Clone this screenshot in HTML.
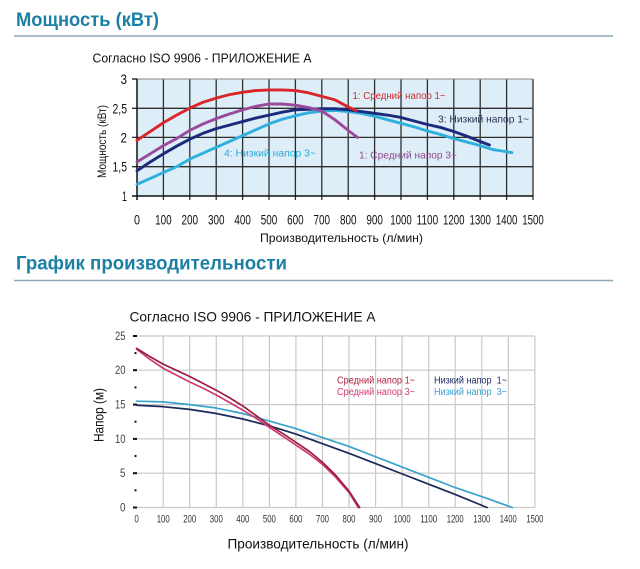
<!DOCTYPE html>
<html><head><meta charset="utf-8"><style>
html,body{margin:0;padding:0;background:#fff;}
svg{display:block;}
text{font-family:"Liberation Sans",Arial,sans-serif;}
</style></head><body>
<svg width="640" height="569" viewBox="0 0 640 569" xmlns="http://www.w3.org/2000/svg">
<rect width="640" height="569" fill="#fff"/>
<!-- Headings -->
<text x="16" y="26" font-size="19" font-weight="bold" fill="#1b7fa6" textLength="143" lengthAdjust="spacingAndGlyphs">Мощность (кВт)</text>
<line x1="14" y1="36" x2="613" y2="36" stroke="#8aa9b3" stroke-width="1.5"/>
<text x="16" y="269.5" font-size="19" font-weight="bold" fill="#1b7fa6" textLength="271" lengthAdjust="spacingAndGlyphs">График производительности</text>
<line x1="14" y1="280.5" x2="613" y2="280.5" stroke="#8aa9b3" stroke-width="1.5"/>

<!-- TOP CHART -->
<text x="92.5" y="62.5" font-size="13" fill="#111" textLength="219" lengthAdjust="spacingAndGlyphs">Согласно ISO 9906 - ПРИЛОЖЕНИЕ А</text>
<rect x="137" y="79" width="396" height="117" fill="#deeef9"/>
<g stroke="#2e2e2e" stroke-width="1.3">
<line x1="163.4" y1="79" x2="163.4" y2="200"/><line x1="189.8" y1="79" x2="189.8" y2="200"/>
<line x1="216.2" y1="79" x2="216.2" y2="200"/><line x1="242.6" y1="79" x2="242.6" y2="200"/>
<line x1="269" y1="79" x2="269" y2="200"/><line x1="295.4" y1="79" x2="295.4" y2="200"/>
<line x1="321.8" y1="79" x2="321.8" y2="200"/><line x1="348.2" y1="79" x2="348.2" y2="200"/>
<line x1="374.6" y1="79" x2="374.6" y2="200"/><line x1="401" y1="79" x2="401" y2="200"/>
<line x1="427.4" y1="79" x2="427.4" y2="200"/><line x1="453.8" y1="79" x2="453.8" y2="200"/>
<line x1="480.2" y1="79" x2="480.2" y2="200"/><line x1="506.6" y1="79" x2="506.6" y2="200"/>
<line x1="533" y1="79" x2="533" y2="200"/>
<line x1="132" y1="108.3" x2="533" y2="108.3"/>
<line x1="132" y1="137.4" x2="533" y2="137.4"/>
<line x1="132" y1="166.7" x2="533" y2="166.7"/>
</g>
<line x1="137" y1="79" x2="533" y2="79" stroke="#888" stroke-width="1"/>
<line x1="132" y1="79" x2="137" y2="79" stroke="#111" stroke-width="1.3"/>
<line x1="137" y1="79" x2="137" y2="200" stroke="#111" stroke-width="1.5"/>
<line x1="132" y1="196" x2="533" y2="196" stroke="#111" stroke-width="1.5"/>

<g fill="none" stroke-width="2.9" stroke-linejoin="round" stroke-linecap="round" transform="matrix(0.264 0 0 -58.6 137 254.6)">
<polyline vector-effect="non-scaling-stroke" stroke="#2fb0dc" points="0,1.2 50,1.3 100,1.4 150,1.5 200,1.63 250,1.73 300,1.83 350,1.93 400,2.03 450,2.13 500,2.23 550,2.31 600,2.37 650,2.42 700,2.45 750,2.46 800,2.44 850,2.41 900,2.36 950,2.3 1000,2.24 1050,2.18 1100,2.11 1150,2.05 1200,1.98 1250,1.92 1300,1.86 1350,1.79 1380,1.77 1420,1.74"/>
<polyline vector-effect="non-scaling-stroke" stroke="#1c2a7c" points="0,1.43 50,1.58 100,1.72 150,1.85 200,1.97 250,2.07 300,2.15 350,2.21 400,2.27 450,2.33 500,2.38 550,2.43 600,2.47 650,2.48 700,2.49 750,2.49 800,2.47 850,2.44 900,2.41 950,2.38 1000,2.34 1050,2.28 1100,2.22 1150,2.17 1200,2.1 1250,2.02 1300,1.93 1335,1.87"/>
<polyline vector-effect="non-scaling-stroke" stroke="#9a4a9c" points="0,1.58 50,1.72 100,1.86 150,1.98 200,2.12 250,2.23 300,2.32 350,2.4 400,2.47 450,2.53 500,2.57 550,2.57 600,2.55 650,2.51 700,2.45 750,2.3 800,2.12 835,2.0"/>
<polyline vector-effect="non-scaling-stroke" stroke="#d8262a" points="0,1.95 50,2.1 100,2.25 150,2.38 200,2.5 250,2.6 300,2.67 350,2.73 400,2.77 450,2.8 500,2.81 550,2.81 600,2.8 650,2.76 700,2.7 750,2.64 800,2.52 830,2.46"/>
</g>

<text x="352.5" y="99" font-size="10.5" fill="#c8302c" textLength="93" lengthAdjust="spacingAndGlyphs">1: Средний напор 1~</text>
<text x="438" y="122.3" font-size="10.5" fill="#2a3050" textLength="91" lengthAdjust="spacingAndGlyphs">3: Низкий напор 1~</text>
<text x="359" y="158.5" font-size="10.5" fill="#94478f" textLength="98" lengthAdjust="spacingAndGlyphs">1: Средний напор 3~</text>
<text x="224" y="156.5" font-size="10.5" fill="#2aa8d8" textLength="92" lengthAdjust="spacingAndGlyphs">4: Низкий напор 3~</text>

<g font-size="14" fill="#111" text-anchor="end">
<text x="127" y="84" textLength="6.5" lengthAdjust="spacingAndGlyphs">3</text>
<text x="127" y="113.3" textLength="14.5" lengthAdjust="spacingAndGlyphs">2,5</text>
<text x="127" y="142.4" textLength="6.5" lengthAdjust="spacingAndGlyphs">2</text>
<text x="127" y="171.7" textLength="14.5" lengthAdjust="spacingAndGlyphs">1,5</text>
<text x="127" y="201" textLength="5" lengthAdjust="spacingAndGlyphs">1</text>
</g>
<g font-size="14" fill="#111" text-anchor="middle">
<text x="137" y="224.5" textLength="6" lengthAdjust="spacingAndGlyphs">0</text>
<text x="163.4" y="224.5" textLength="16.5" lengthAdjust="spacingAndGlyphs">100</text>
<text x="189.8" y="224.5" textLength="16.5" lengthAdjust="spacingAndGlyphs">200</text>
<text x="216.2" y="224.5" textLength="16.5" lengthAdjust="spacingAndGlyphs">300</text>
<text x="242.6" y="224.5" textLength="16.5" lengthAdjust="spacingAndGlyphs">400</text>
<text x="269" y="224.5" textLength="16.5" lengthAdjust="spacingAndGlyphs">500</text>
<text x="295.4" y="224.5" textLength="16.5" lengthAdjust="spacingAndGlyphs">600</text>
<text x="321.8" y="224.5" textLength="16.5" lengthAdjust="spacingAndGlyphs">700</text>
<text x="348.2" y="224.5" textLength="16.5" lengthAdjust="spacingAndGlyphs">800</text>
<text x="374.6" y="224.5" textLength="16.5" lengthAdjust="spacingAndGlyphs">900</text>
<text x="401" y="224.5" textLength="21.5" lengthAdjust="spacingAndGlyphs">1000</text>
<text x="427.4" y="224.5" textLength="21.5" lengthAdjust="spacingAndGlyphs">1100</text>
<text x="453.8" y="224.5" textLength="21.5" lengthAdjust="spacingAndGlyphs">1200</text>
<text x="480.2" y="224.5" textLength="21.5" lengthAdjust="spacingAndGlyphs">1300</text>
<text x="506.6" y="224.5" textLength="21.5" lengthAdjust="spacingAndGlyphs">1400</text>
<text x="533" y="224.5" textLength="21.5" lengthAdjust="spacingAndGlyphs">1500</text>
</g>
<text x="341.5" y="242" font-size="12" fill="#111" text-anchor="middle" textLength="163" lengthAdjust="spacingAndGlyphs">Производительность (л/мин)</text>
<text transform="translate(106,141.5) rotate(-90)" font-size="12" fill="#111" text-anchor="middle" textLength="73" lengthAdjust="spacingAndGlyphs">Мощность (кВт)</text>

<!-- BOTTOM CHART -->
<text x="129.5" y="321.7" font-size="14" fill="#111" textLength="246" lengthAdjust="spacingAndGlyphs">Согласно ISO 9906 - ПРИЛОЖЕНИЕ А</text>
<g stroke="#c9c9c9" stroke-width="1.2">
<line x1="163.2" y1="336" x2="163.2" y2="507.5"/><line x1="189.7" y1="336" x2="189.7" y2="507.5"/>
<line x1="216.3" y1="336" x2="216.3" y2="507.5"/><line x1="242.8" y1="336" x2="242.8" y2="507.5"/>
<line x1="269.4" y1="336" x2="269.4" y2="507.5"/><line x1="295.9" y1="336" x2="295.9" y2="507.5"/>
<line x1="322.5" y1="336" x2="322.5" y2="507.5"/><line x1="349" y1="336" x2="349" y2="507.5"/>
<line x1="375.6" y1="336" x2="375.6" y2="507.5"/><line x1="402.1" y1="336" x2="402.1" y2="507.5"/>
<line x1="428.7" y1="336" x2="428.7" y2="507.5"/><line x1="455.2" y1="336" x2="455.2" y2="507.5"/>
<line x1="481.8" y1="336" x2="481.8" y2="507.5"/><line x1="508.3" y1="336" x2="508.3" y2="507.5"/>
<line x1="534.9" y1="336" x2="534.9" y2="507.5"/>
<line x1="137" y1="336" x2="534.9" y2="336"/>
<line x1="137" y1="370.2" x2="534.9" y2="370.2"/>
<line x1="137" y1="404.6" x2="534.9" y2="404.6"/>
<line x1="137" y1="438.9" x2="534.9" y2="438.9"/>
<line x1="137" y1="473.2" x2="534.9" y2="473.2"/>
<line x1="137" y1="507.5" x2="534.9" y2="507.5"/>
</g>
<g stroke="#111" stroke-width="2">
<line x1="133" y1="336" x2="137" y2="336"/><line x1="133" y1="370.2" x2="137" y2="370.2"/>
<line x1="133" y1="404.6" x2="137" y2="404.6"/><line x1="133" y1="438.9" x2="137" y2="438.9"/>
<line x1="133" y1="473.2" x2="137" y2="473.2"/><line x1="133" y1="507.5" x2="137" y2="507.5"/>
<line x1="134.5" y1="353.1" x2="136.5" y2="353.1"/><line x1="134.5" y1="387.4" x2="136.5" y2="387.4"/>
<line x1="134.5" y1="421.7" x2="136.5" y2="421.7"/><line x1="134.5" y1="456" x2="136.5" y2="456"/>
<line x1="134.5" y1="490.3" x2="136.5" y2="490.3"/>
</g>

<g fill="none" stroke-width="1.7" stroke-linejoin="round" stroke-linecap="round" transform="matrix(0.2655 0 0 -6.86 136.6 507.5)">
<polyline vector-effect="non-scaling-stroke" stroke="#3aa3cc" points="0,15.5 100,15.4 200,15 300,14.5 400,13.7 500,12.6 600,11.5 700,10.2 800,8.9 900,7.4 1000,5.9 1100,4.4 1200,2.9 1300,1.6 1415,0"/>
<polyline vector-effect="non-scaling-stroke" stroke="#1c2a5a" points="0,14.9 100,14.7 200,14.3 300,13.7 400,12.9 500,11.9 600,10.7 700,9.3 800,7.9 900,6.4 1000,4.9 1100,3.4 1200,1.9 1320,0"/>
<polyline vector-effect="non-scaling-stroke" stroke="#cc3a78" points="0,23.1 50,21.6 100,20.3 150,19.3 200,18.3 250,17.4 300,16.4 350,15.3 400,14.2 450,13 500,11.7 550,10.4 600,9.1 650,7.8 700,6.3 750,4.4 800,2.2 835,0"/>
<polyline vector-effect="non-scaling-stroke" stroke="#9a1f3e" points="0,23.2 50,22 100,20.9 150,20 200,19.1 250,18.1 300,17.1 350,16 400,14.8 450,13.4 500,12 550,10.8 600,9.5 650,8.2 700,6.6 750,4.7 800,2.4 840,0"/>
</g>

<text x="337" y="383.3" font-size="10" fill="#b0203c" textLength="78" lengthAdjust="spacingAndGlyphs">Средний напор 1~</text>
<text x="337" y="395" font-size="10" fill="#d23a7a" textLength="78" lengthAdjust="spacingAndGlyphs">Средний напор 3~</text>
<text x="434" y="383.3" font-size="10" fill="#1a2a5e" textLength="73" lengthAdjust="spacingAndGlyphs" xml:space="preserve">Низкий напор  1~</text>
<text x="434" y="395" font-size="10" fill="#3a9fcf" textLength="73" lengthAdjust="spacingAndGlyphs" xml:space="preserve">Низкий напор  3~</text>

<g font-size="11.5" fill="#444" text-anchor="end">
<text x="125.5" y="340" textLength="10.5" lengthAdjust="spacingAndGlyphs">25</text>
<text x="125.5" y="374.2" textLength="10.5" lengthAdjust="spacingAndGlyphs">20</text>
<text x="125.5" y="408.6" textLength="10.5" lengthAdjust="spacingAndGlyphs">15</text>
<text x="125.5" y="442.9" textLength="10.5" lengthAdjust="spacingAndGlyphs">10</text>
<text x="125.5" y="477.2" textLength="5.5" lengthAdjust="spacingAndGlyphs">5</text>
<text x="125.5" y="511.5" textLength="5.5" lengthAdjust="spacingAndGlyphs">0</text>
</g>
<g font-size="11" fill="#333" text-anchor="middle">
<text x="136.6" y="522.5" textLength="4.5" lengthAdjust="spacingAndGlyphs">0</text>
<text x="163.2" y="522.5" textLength="13" lengthAdjust="spacingAndGlyphs">100</text>
<text x="189.7" y="522.5" textLength="13" lengthAdjust="spacingAndGlyphs">200</text>
<text x="216.3" y="522.5" textLength="13" lengthAdjust="spacingAndGlyphs">300</text>
<text x="242.8" y="522.5" textLength="13" lengthAdjust="spacingAndGlyphs">400</text>
<text x="269.4" y="522.5" textLength="13" lengthAdjust="spacingAndGlyphs">500</text>
<text x="295.9" y="522.5" textLength="13" lengthAdjust="spacingAndGlyphs">600</text>
<text x="322.5" y="522.5" textLength="13" lengthAdjust="spacingAndGlyphs">700</text>
<text x="349" y="522.5" textLength="13" lengthAdjust="spacingAndGlyphs">800</text>
<text x="375.6" y="522.5" textLength="13" lengthAdjust="spacingAndGlyphs">900</text>
<text x="402.1" y="522.5" textLength="17" lengthAdjust="spacingAndGlyphs">1000</text>
<text x="428.7" y="522.5" textLength="17" lengthAdjust="spacingAndGlyphs">1100</text>
<text x="455.2" y="522.5" textLength="17" lengthAdjust="spacingAndGlyphs">1200</text>
<text x="481.8" y="522.5" textLength="17" lengthAdjust="spacingAndGlyphs">1300</text>
<text x="508.3" y="522.5" textLength="17" lengthAdjust="spacingAndGlyphs">1400</text>
<text x="534.9" y="522.5" textLength="17" lengthAdjust="spacingAndGlyphs">1500</text>
</g>
<text x="318" y="548.5" font-size="13.5" fill="#111" text-anchor="middle" textLength="181" lengthAdjust="spacingAndGlyphs">Производительность (л/мин)</text>
<text transform="translate(103.5,415) rotate(-90)" font-size="14" fill="#111" text-anchor="middle" textLength="54" lengthAdjust="spacingAndGlyphs">Напор (м)</text>
</svg>
</body></html>
